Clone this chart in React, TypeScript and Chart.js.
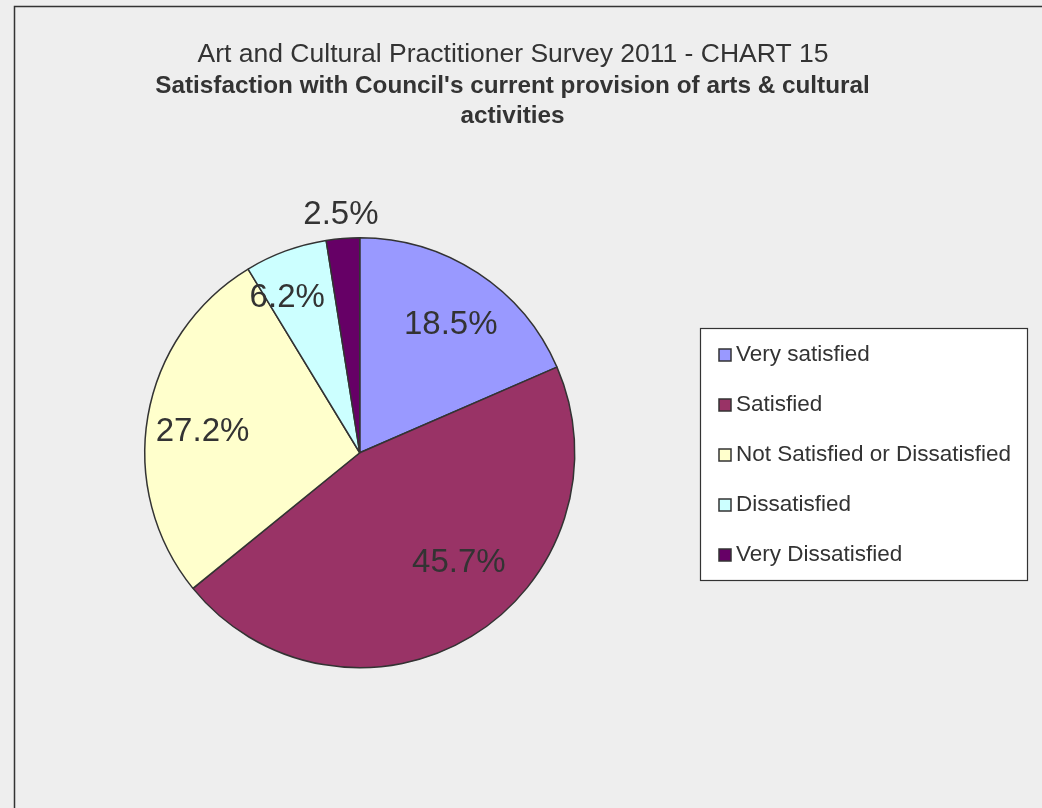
import React, { useEffect, useRef } from "react";
import { Chart, registerables } from "chart.js";

Chart.register(...registerables);

const categories = [
  "Very satisfied",
  "Satisfied",
  "Not Satisfied or Dissatisfied",
  "Dissatisfied",
  "Very Dissatisfied",
];
const values = [18.5, 45.7, 27.2, 6.2, 2.5];
const valueLabels = ["18.5%", "45.7%", "27.2%", "6.2%", "2.5%"];
const colors = ["#9999ff", "#993366", "#ffffcc", "#ccffff", "#660066"];
const titleLine1 = "Art and Cultural Practitioner Survey 2011 - CHART 15";
const titleBoldLines = [
  "Satisfaction with Council's current provision of arts & cultural",
  "activities",
];

// label placement relative to each arc: radius factor and angle shift (degrees)
const labelPlacement = [
  { rf: 0.735, shift: 1.9 },
  { rf: 0.685, shift: -11 },
  { rf: 0.738, shift: -2 },
  { rf: 0.8, shift: -4.8 },
  { rf: 1.116, shift: 0 },
];

const FONT = "'Liberation Sans', Arial, sans-serif";
const TEXT = "#333333";

const decorPlugin = {
  id: "decor",
  beforeDraw(chart: any) {
    const ctx = chart.ctx;
    ctx.save();
    ctx.fillStyle = "#eeeeee";
    ctx.fillRect(0, 0, chart.width, chart.height);
    ctx.strokeStyle = "#333333";
    ctx.lineWidth = 1.5;
    ctx.beginPath();
    ctx.moveTo(14.5, chart.height);
    ctx.lineTo(14.5, 6.5);
    ctx.lineTo(chart.width, 6.5);
    ctx.stroke();
    ctx.restore();
  },
  afterDraw(chart: any) {
    const ctx = chart.ctx;
    ctx.save();
    // title
    ctx.fillStyle = TEXT;
    ctx.textAlign = "center";
    ctx.textBaseline = "alphabetic";
    ctx.font = `26.5px ${FONT}`;
    ctx.fillText(titleLine1, 513, 62);
    ctx.font = `bold 24.3px ${FONT}`;
    titleBoldLines.forEach((t, i) => ctx.fillText(t, 512.5, 93 + i * 30));

    // data labels
    const meta = chart.getDatasetMeta(0);
    ctx.font = `33px ${FONT}`;
    ctx.textBaseline = "middle";
    meta.data.forEach((arc: any, i: number) => {
      const p = arc.getProps(["x", "y", "startAngle", "endAngle", "outerRadius"], true);
      const mid = (p.startAngle + p.endAngle) / 2 + (labelPlacement[i].shift * Math.PI) / 180;
      const r = p.outerRadius * labelPlacement[i].rf;
      ctx.fillText(valueLabels[i], p.x + Math.cos(mid) * r, p.y + Math.sin(mid) * r + 1);
    });

    // legend
    const lx = 700.5, ly = 328.5, lw = 327, lh = 252;
    ctx.fillStyle = "#ffffff";
    ctx.fillRect(lx, ly, lw, lh);
    ctx.strokeStyle = "#333333";
    ctx.lineWidth = 1.2;
    ctx.strokeRect(lx, ly, lw, lh);
    ctx.font = `22.5px ${FONT}`;
    ctx.textAlign = "left";
    ctx.textBaseline = "middle";
    categories.forEach((c, i) => {
      const cy = 355 + i * 50;
      ctx.fillStyle = colors[i];
      ctx.fillRect(719, cy - 6, 12, 12);
      ctx.strokeStyle = "#333333";
      ctx.lineWidth = 1.5;
      ctx.strokeRect(719, cy - 6, 12, 12);
      ctx.fillStyle = TEXT;
      ctx.fillText(c, 736, cy);
    });
    ctx.restore();
  },
};

export default function App() {
  const ref = useRef<HTMLCanvasElement>(null);
  useEffect(() => {
    document.body.style.margin = "0";
    const chart = new Chart(ref.current!, {
      type: "pie",
      data: {
        labels: categories,
        datasets: [
          {
            data: values,
            backgroundColor: colors,
            borderColor: "#333333",
            borderWidth: 1.5,
          },
        ],
      },
      options: {
        responsive: false,
        animation: false,
        events: [],
        layout: { padding: { left: 144, right: 466.5, top: 237, bottom: 139.5 } },
        plugins: {
          legend: { display: false },
          title: { display: false },
          tooltip: { enabled: false },
        },
      },
      plugins: [decorPlugin],
    });
    return () => chart.destroy();
  }, []);
  return <canvas ref={ref} width={1042} height={808} style={{ display: "block" }} />;
}
